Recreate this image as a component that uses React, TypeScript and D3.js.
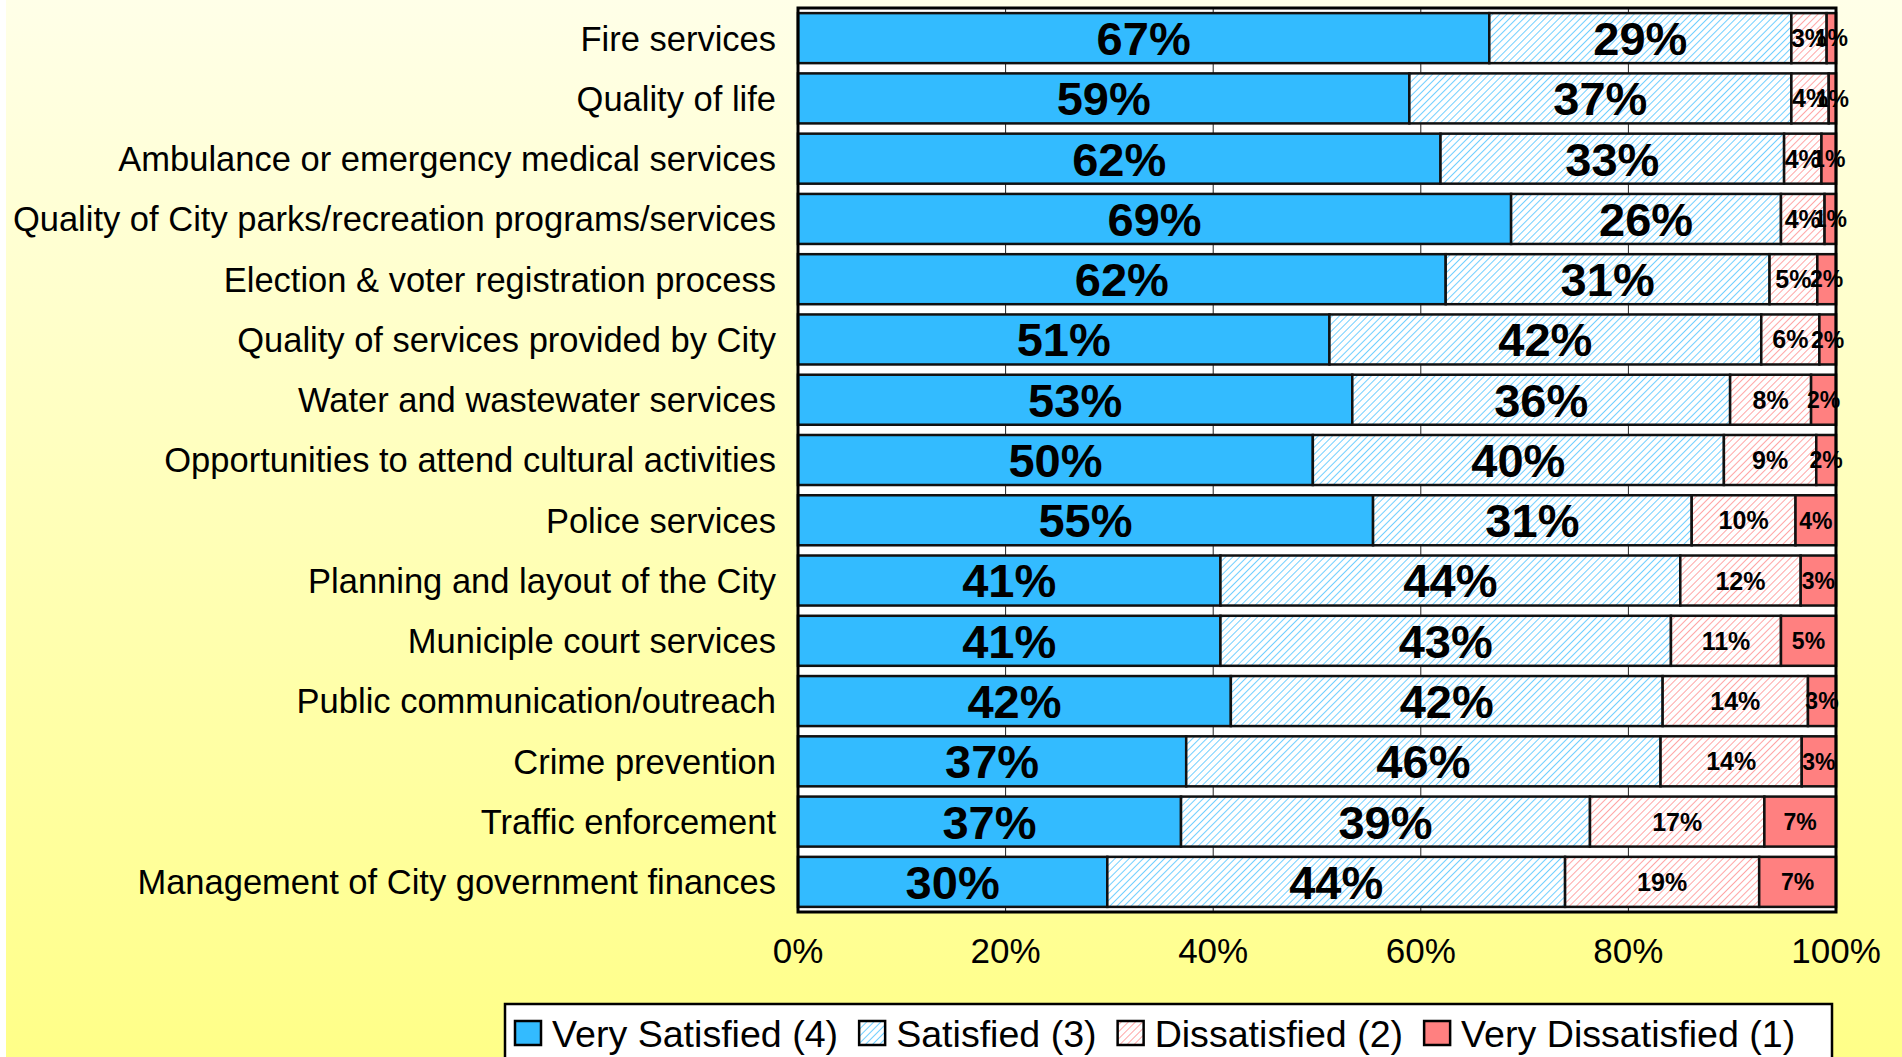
import React from 'react';
import * as d3 from 'd3';

// Satisfaction survey, stacked 100% bars (values in percent)
const categories = [
  'Fire services',
  'Quality of life',
  'Ambulance or emergency medical services',
  'Quality of City parks/recreation programs/services',
  'Election & voter registration process',
  'Quality of services provided by City',
  'Water and wastewater services',
  'Opportunities to attend cultural activities',
  'Police services',
  'Planning and layout of the City',
  'Municiple court services',
  'Public communication/outreach',
  'Crime prevention',
  'Traffic enforcement',
  'Management of City government finances',
];
const seriesNames = ['Very Satisfied (4)', 'Satisfied (3)', 'Dissatisfied (2)', 'Very Dissatisfied (1)'];
const verySatisfied = [66.6, 58.9, 61.9, 68.7, 62.4, 51.2, 53.4, 49.6, 55.4, 40.7, 40.7, 41.7, 37.4, 36.9, 29.8];
const satisfied = [29.1, 36.8, 33.1, 26.0, 31.2, 41.6, 36.4, 39.6, 30.7, 44.3, 43.4, 41.6, 45.7, 39.4, 44.1];
const dissatisfied = [3.4, 3.6, 3.6, 4.2, 4.6, 5.6, 7.8, 8.9, 10.0, 11.6, 10.6, 14.0, 13.6, 16.8, 18.7];
const veryDissatisfied = [0.9, 0.7, 1.4, 1.1, 1.8, 1.6, 2.4, 1.9, 3.9, 3.4, 5.3, 2.7, 3.3, 6.9, 7.4];
const tickValues = [0, 20, 40, 60, 80, 100];

const W = 1902;
const H = 1057;
const FONT = '"Liberation Sans", Arial, sans-serif';

const fills = ['#33bbff', 'url(#hatchBlue)', 'url(#hatchRed)', '#ff8080'];
const labelSize = [47, 47, 25, 23];

// measure text for legend layout
const measure = (() => {
  let ctx: CanvasRenderingContext2D | null = null;
  return (txt: string, size: number) => {
    if (!ctx) ctx = document.createElement('canvas').getContext('2d');
    if (!ctx) return txt.length * size * 0.5;
    ctx.font = `${size}px ${FONT}`;
    return ctx.measureText(txt).width;
  };
})();

export default function App() {
  const margin = { top: 8, right: 66, bottom: 145, left: 798 };
  const x0 = margin.left;
  const x1 = W - margin.right;
  const y0 = margin.top;
  const y1 = H - margin.bottom;

  const rows = categories.map((c, i) => ({
    cat: c,
    s0: verySatisfied[i],
    s1: satisfied[i],
    s2: dissatisfied[i],
    s3: veryDissatisfied[i],
  }));
  const keys = ['s0', 's1', 's2', 's3'];
  const stacked = d3.stack<any>().keys(keys)(rows);

  const x = d3.scaleLinear().domain([0, 100]).range([x0, x1]);
  const y = d3.scaleBand().domain(categories).range([y0, y1]).paddingInner(0.17).paddingOuter(0.085);

  // legend layout
  const legFont = 37.6;
  const sw = 26;
  let lx = 515;
  const legendItems = seriesNames.map((name, i) => {
    const item = { name, i, x: lx };
    lx += sw + 11 + measure(name, legFont) + 21;
    return item;
  });

  return (
    <svg width={W} height={H} style={{ position: 'absolute', left: 0, top: 0 }} fontFamily={FONT}>
      <defs>
        <linearGradient id="bg" x1="0" y1="0" x2="0" y2="1">
          <stop offset="0%" stopColor="#ffffe8" />
          <stop offset="100%" stopColor="#ffff88" />
        </linearGradient>
        <pattern id="hatchBlue" width="5" height="5" patternUnits="userSpaceOnUse" patternTransform="rotate(45)">
          <rect width="5" height="5" fill="#fff" />
          <line x1="0" y1="0" x2="0" y2="5" stroke="#4cc3ff" strokeWidth="1.6" />
        </pattern>
        <pattern id="hatchRed" width="5" height="5" patternUnits="userSpaceOnUse" patternTransform="rotate(45)">
          <rect width="5" height="5" fill="#fff" />
          <line x1="0" y1="0" x2="0" y2="5" stroke="#ff9090" strokeWidth="1.6" />
        </pattern>
      </defs>

      <rect width={W} height={H} fill="#fff" />
      <rect x={6} y={0} width={W - 6} height={H} fill="url(#bg)" />

      {/* plot area */}
      <rect x={x0} y={y0} width={x1 - x0} height={y1 - y0} fill="#fff" />
      {tickValues.slice(1, -1).map(t => (
        <line key={t} x1={x(t)} x2={x(t)} y1={y0} y2={y1} stroke="#222" strokeWidth={1} />
      ))}

      {stacked.map((layer, si) => (
        <g key={si}>
          {layer.map((d, i) => (
            <rect
              key={i}
              x={x(d[0])}
              y={y(categories[i])}
              width={x(d[1]) - x(d[0])}
              height={y.bandwidth()}
              fill={fills[si]}
              stroke="#111"
              strokeWidth={2.5}
            />
          ))}
        </g>
      ))}

      <rect x={x0} y={y0} width={x1 - x0} height={y1 - y0} fill="none" stroke="#000" strokeWidth={3} />

      {/* value labels */}
      {stacked.map((layer, si) => (
        <g key={si} fontWeight="bold" textAnchor="middle" fontSize={labelSize[si]}>
          {layer.map((d, i) => (
            <text
              key={i}
              x={(x(d[0]) + x(d[1])) / 2}
              y={(y(categories[i]) as number) + y.bandwidth() / 2}
              dy="0.36em"
              fill="#000"
            >
              {Math.round(d[1] - d[0])}%
            </text>
          ))}
        </g>
      ))}

      {/* category labels */}
      <g textAnchor="end" fontSize={34.5}>
        {categories.map(c => (
          <text key={c} x={x0 - 22} y={(y(c) as number) + y.bandwidth() / 2} dy="0.36em" fill="#000">
            {c}
          </text>
        ))}
      </g>

      {/* x axis tick labels */}
      <g textAnchor="middle" fontSize={35}>
        {tickValues.map(t => (
          <text key={t} x={x(t)} y={950} dy="0.36em" fill="#000">
            {t}%
          </text>
        ))}
      </g>

      {/* legend */}
      <rect x={505} y={1004} width={1327} height={70} fill="#fff" stroke="#000" strokeWidth={2.5} />
      {legendItems.map(it => (
        <g key={it.name}>
          <rect x={it.x} y={1021} width={sw} height={24} fill={fills[it.i]} stroke="#000" strokeWidth={2.5} />
          <text x={it.x + sw + 11} y={1033} dy="0.36em" fontSize={legFont} fill="#000">
            {it.name}
          </text>
        </g>
      ))}
    </svg>
  );
}
